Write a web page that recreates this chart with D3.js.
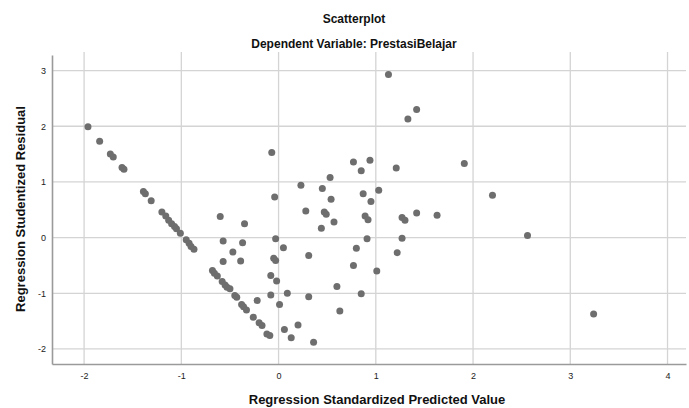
<!DOCTYPE html>
<html>
<head>
<meta charset="utf-8">
<script src="https://cdn.jsdelivr.net/npm/d3@7"></script>
<style>
  body { margin: 0; background: #fff; }
  text { font-family: "Liberation Sans", Arial, sans-serif; }
</style>
</head>
<body>
<div id="chart"></div>
<script>
const predicted = [
  -1.96, -1.84, -1.73, -1.70, -1.61, -1.59, -1.39, -1.37, -1.31, -1.20,
  -1.16, -1.13, -1.10, -1.07, -1.05, -1.01, -0.95, -0.92, -0.90, -0.87,
  -0.68, -0.66, -0.63, -0.58, -0.55, -0.53, -0.50, -0.45, -0.43, -0.38,
  -0.36, -0.33, -0.26, -0.20, -0.17, -0.12, -0.09, -0.60, -0.35, -0.57,
  -0.37, -0.47, -0.57, -0.39, -0.22, -0.07, -0.04, -0.03, 0.05, -0.05,
  -0.03, -0.08, -0.02, -0.08, 0.09, 0.01, 0.06, 0.13, 0.20, 0.36,
  0.23, 0.45, 0.53, 0.28, 0.47, 0.49, 0.54, 0.57, 0.44, 0.31,
  0.31, 0.60, 0.63, 0.77, 0.94, 0.85, 1.13, 1.42, 1.33, 1.21,
  1.91, 0.87, 1.03, 0.95, 0.89, 0.92, 0.91, 0.80, 0.77, 1.01,
  0.85, 1.27, 1.30, 1.42, 1.63, 1.27, 1.22, 2.20, 2.56, 3.24
]
const residual = [
  1.99, 1.73, 1.50, 1.45, 1.26, 1.23, 0.83, 0.79, 0.66, 0.46,
  0.39, 0.31, 0.25, 0.20, 0.16, 0.08, -0.04, -0.10, -0.16, -0.21,
  -0.59, -0.64, -0.69, -0.79, -0.85, -0.89, -0.92, -1.04, -1.07, -1.20,
  -1.24, -1.30, -1.43, -1.53, -1.58, -1.73, -1.76, 0.38, 0.25, -0.06,
  -0.09, -0.26, -0.43, -0.42, -1.13, 1.53, 0.73, -0.02, -0.18, -0.37,
  -0.41, -0.68, -0.78, -1.03, -1.00, -1.20, -1.65, -1.80, -1.57, -1.88,
  0.94, 0.88, 1.08, 0.48, 0.46, 0.42, 0.69, 0.28, 0.17, -0.32,
  -1.06, -0.88, -1.32, 1.36, 1.39, 1.20, 2.93, 2.30, 2.13, 1.25,
  1.33, 0.79, 0.85, 0.65, 0.39, 0.32, -0.02, -0.19, -0.50, -0.60,
  -1.01, 0.36, 0.31, 0.44, 0.40, -0.01, -0.27, 0.76, 0.04, -1.37
]
const xTicks = [-2, -1, 0, 1, 2, 3, 4]
const yTicks = [-2, -1, 0, 1, 2, 3]

const W = 689, H = 408
const margin = { top: 55, left: 52, bottom: 44, right: 3 }

var svg = d3.select('#chart')
  .append('svg')
  .attr('width', W)
  .attr('height', H)

var x_scale = d3.scaleLinear()
  .domain([-2.33, 4.19])
  .range([margin.left, W - margin.right])
var y_scale = d3.scaleLinear()
  .domain([-2.27, 3.28])
  .range([H - margin.bottom, margin.top])

// grid lines
svg.append('g')
  .selectAll('line')
  .data(xTicks)
  .join('line')
  .attr('x1', d => x_scale(d)).attr('x2', d => x_scale(d))
  .attr('y1', margin.top - 3).attr('y2', H - margin.bottom)
  .attr('stroke', '#d4d4d4')
  .attr('stroke-width', 1.3)

svg.append('g')
  .selectAll('line')
  .data(yTicks)
  .join('line')
  .attr('x1', margin.left).attr('x2', W - margin.right)
  .attr('y1', d => y_scale(d)).attr('y2', d => y_scale(d))
  .attr('stroke', '#d4d4d4')
  .attr('stroke-width', 1.3)

// axes, no tick marks, just labels (plain hyphen minus like SPSS)
var fmt = d => String(d)
var X_AXIS = d3.axisBottom(x_scale).tickValues(xTicks).tickFormat(fmt).tickSize(0).tickPadding(9)
var Y_AXIS = d3.axisLeft(y_scale).tickValues(yTicks).tickFormat(fmt).tickSize(0).tickPadding(6)

var gx = svg.append('g')
  .attr('transform', `translate(0,${H - margin.bottom})`)
  .call(X_AXIS)
var gy = svg.append('g')
  .attr('transform', `translate(${margin.left},0)`)
  .call(Y_AXIS)

;[gx, gy].forEach(g => {
  g.select('.domain').attr('stroke', '#9a9a9a').attr('stroke-width', 1.6)
  g.selectAll('text')
    .attr('font-size', 9)
    .attr('fill', '#222')
    .style('font-family', '"Liberation Sans", Arial, sans-serif')
})

// points
svg.append('g')
  .selectAll('circle')
  .data(predicted.map((p, i) => ({ x: p, y: residual[i] })))
  .join('circle')
  .attr('cx', d => x_scale(d.x))
  .attr('cy', d => y_scale(d.y))
  .attr('r', 3.5)
  .attr('fill', '#6e6e6e')

// titles
svg.append('text')
  .attr('x', 354).attr('y', 23)
  .attr('text-anchor', 'middle')
  .attr('font-size', 12).attr('font-weight', 'bold')
  .attr('fill', '#111')
  .text('Scatterplot')

svg.append('text')
  .attr('x', 354).attr('y', 48)
  .attr('text-anchor', 'middle')
  .attr('font-size', 12).attr('font-weight', 'bold')
  .attr('fill', '#111')
  .text('Dependent Variable: PrestasiBelajar')

svg.append('text')
  .attr('x', 377).attr('y', 404)
  .attr('text-anchor', 'middle')
  .attr('font-size', 13).attr('font-weight', 'bold')
  .attr('fill', '#111')
  .text('Regression Standardized Predicted Value')

svg.append('text')
  .attr('transform', 'translate(25,209) rotate(-90)')
  .attr('text-anchor', 'middle')
  .attr('font-size', 13).attr('font-weight', 'bold')
  .attr('fill', '#111')
  .text('Regression Studentized Residual')
</script>
</body>
</html>
